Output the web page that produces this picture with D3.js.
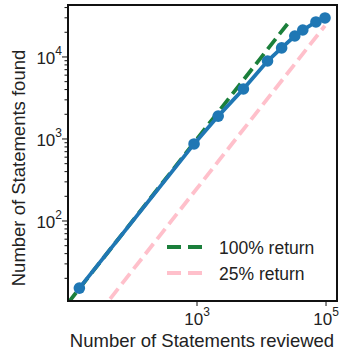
<!DOCTYPE html>
<html>
<head>
<meta charset="utf-8">
<script src="https://cdn.jsdelivr.net/npm/d3@7"></script>
<style>
  body { margin: 0; background: #fff; }
  text { font-family: "Liberation Sans", Arial, sans-serif; fill: #222; }
</style>
</head>
<body>
<div id="chart"></div>
<script>
// statements reviewed vs found
var reviewed = [15, 900, 2130, 5240, 12400, 20500, 32800, 43600, 69800, 96400];
var found = [15.2, 870, 1900, 4070, 8930, 12900, 18000, 21300, 26700, 29900];

var fullReturnX = [10, 27000];
var quarterReturnX = [45, 96000];
var quarterRate = 0.25;

var xTickVals = [1e3, 1e5];
var yTickVals = [1e2, 1e3, 1e4];

var legendNames = ["100% return", "25% return"];
var legendColors = ["#1b7f3b", "#ffc0cb"];

var width = 340, height = 350;
var pLeft = 68, pRight = 337, pTop = 5, pBottom = 301;

var svg = d3.select("#chart").append("svg")
    .attr("width", width)
    .attr("height", height);

var x = d3.scaleLog().domain([10, 148000]).range([pLeft, pRight]);
var y = d3.scaleLog().domain([10.58, 43000]).range([pBottom, pTop]);

svg.append("clipPath").attr("id", "clip")
    .append("rect")
    .attr("x", pLeft).attr("y", pTop)
    .attr("width", pRight - pLeft).attr("height", pBottom - pTop);

var plot = svg.append("g").attr("clip-path", "url(#clip)");

var line = d3.line()
    .x(function(d) { return x(d[0]); })
    .y(function(d) { return y(d[1]); });

// reference lines
plot.append("path")
    .datum(fullReturnX.map(function(v) { return [v, v]; }))
    .attr("d", line)
    .attr("fill", "none")
    .attr("stroke", legendColors[0])
    .attr("stroke-width", 3.8)
    .attr("stroke-dasharray", "13,6");

plot.append("path")
    .datum(quarterReturnX.map(function(v) { return [v, v * quarterRate]; }))
    .attr("d", line)
    .attr("fill", "none")
    .attr("stroke", legendColors[1])
    .attr("stroke-width", 3.8)
    .attr("stroke-dasharray", "13,6");

var pts = reviewed.map(function(v, i) { return [v, found[i]]; });

plot.append("path")
    .datum(pts)
    .attr("d", line)
    .attr("fill", "none")
    .attr("stroke", "#1f77b4")
    .attr("stroke-width", 3.8);

plot.selectAll("circle")
    .data(pts)
    .enter()
    .append("circle")
    .attr("cx", function(d) { return x(d[0]); })
    .attr("cy", function(d) { return y(d[1]); })
    .attr("r", 5.8)
    .attr("fill", "#1f77b4");

// frame
svg.append("rect")
    .attr("x", pLeft).attr("y", pTop)
    .attr("width", pRight - pLeft).attr("height", pBottom - pTop)
    .attr("fill", "none")
    .attr("stroke", "#111")
    .attr("stroke-width", 2);

// y ticks (major + minor)
var yMinor = [];
for (var e = 1; e <= 4; e++) {
    for (var m = 1; m <= 9; m++) {
        var v = m * Math.pow(10, e);
        if (v >= 10.58 && v <= 43000) yMinor.push(v);
    }
}
svg.selectAll(".ytick")
    .data(yMinor)
    .enter()
    .append("line")
    .attr("class", "ytick")
    .attr("x1", pLeft)
    .attr("x2", function(d) { return yTickVals.indexOf(d) >= 0 ? pLeft - 6 : pLeft - 3.5; })
    .attr("y1", function(d) { return y(d); })
    .attr("y2", function(d) { return y(d); })
    .attr("stroke", "#111")
    .attr("stroke-width", 1);

function powLabel(sel, exp) {
    sel.append("tspan").text("10");
    sel.append("tspan").attr("dy", -9).attr("font-size", 12).text(exp);
}

yTickVals.forEach(function(v) {
    var t = svg.append("text")
        .attr("x", pLeft - 6)
        .attr("y", y(v) + 7)
        .attr("text-anchor", "end")
        .attr("font-size", 17);
    powLabel(t, Math.round(Math.log10(v)));
});

// x ticks
svg.selectAll(".xtick")
    .data(xTickVals)
    .enter()
    .append("line")
    .attr("class", "xtick")
    .attr("x1", function(d) { return x(d); })
    .attr("x2", function(d) { return x(d); })
    .attr("y1", pBottom)
    .attr("y2", pBottom + 5)
    .attr("stroke", "#111")
    .attr("stroke-width", 1);

xTickVals.forEach(function(v) {
    var t = svg.append("text")
        .attr("x", x(v))
        .attr("y", 325)
        .attr("text-anchor", "middle")
        .attr("font-size", 17);
    powLabel(t, Math.round(Math.log10(v)));
});

// axis labels
svg.append("text")
    .attr("x", 202)
    .attr("y", 347)
    .attr("text-anchor", "middle")
    .attr("font-size", 18.5)
    .text("Number of Statements reviewed");

svg.append("text")
    .attr("transform", "translate(25,168) rotate(-90)")
    .attr("text-anchor", "middle")
    .attr("font-size", 18.5)
    .text("Number of Statements found");

// legend
legendNames.forEach(function(name, i) {
    var ly = 247 + i * 26;
    svg.append("line")
        .attr("x1", 167).attr("x2", 203)
        .attr("y1", ly).attr("y2", ly)
        .attr("stroke", legendColors[i])
        .attr("stroke-width", 3.8)
        .attr("stroke-dasharray", "14,7");
    svg.append("text")
        .attr("x", 219)
        .attr("y", ly + 6.5)
        .attr("font-size", 17.5)
        .text(name);
});
</script>
</body>
</html>
